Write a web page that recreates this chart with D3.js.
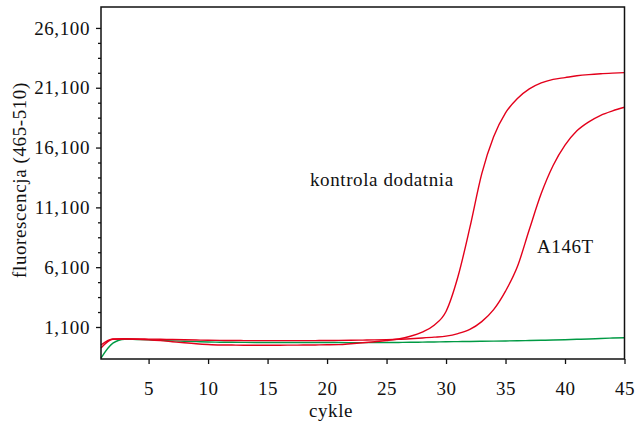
<!DOCTYPE html>
<html>
<head>
<meta charset="utf-8">
<script src="https://cdn.jsdelivr.net/npm/d3@7"></script>
</head>
<body style="margin:0">
<script>
// amplification curves, one value per cycle
const cycles = [1, 2, 3, 4, 5, 6, 7, 8, 9, 10, 11, 12, 13, 14, 15, 16, 17, 18, 19, 20,
  21, 22, 23, 24, 25, 26, 27, 28, 29, 30, 31, 32, 33, 34, 35, 36, 37, 38, 39, 40,
  41, 42, 43, 44, 45]

const kontrola = [-650, 80, 100, 80, 30, -40, -130, -220, -300, -360, -400, -410, -420, -420, -420,
  -420, -415, -410, -400, -390, -370, -300, -220, -130, -30, 100, 330, 680, 1250, 2400,
  5300, 9400, 13900, 17000, 19000, 20200, 21000, 21500, 21800, 21950, 22100, 22200, 22270, 22320, 22360]

const a146t = [-400, 100, 120, 110, 90, 70, 50, 30, 10, -10, -20, -30, -35, -40, -40,
  -40, -40, -40, -35, -30, -20, -10, 5, 20, 40, 70, 120, 180, 250, 340,
  550, 900, 1550, 2550, 4100, 6150, 9250, 12250, 14600, 16300, 17500, 18250, 18800, 19170, 19470]

const negative = [-1500, -250, 80, 50, 20, -20, -60, -90, -120, -150, -170, -180, -185, -190, -190,
  -195, -195, -200, -200, -200, -200, -205, -205, -210, -200, -190, -180, -165, -150, -130,
  -120, -110, -95, -80, -65, -50, -30, -10, 10, 40, 70, 100, 140, 175, 206]

const xTicks = [5, 10, 15, 20, 25, 30, 35, 40, 45]
const yTicks = [1100, 6100, 11100, 16100, 21100, 26100]
const yMinor = [2350, 3600, 4850, 7350, 8600, 9850, 12350, 13600, 14850,
  17350, 18600, 19850, 22350, 23600, 24850]

const W = 641, H = 423
const m = { top: 7, right: 16.5, bottom: 64, left: 101 }

const svg = d3.select("body").append("svg")
  .attr("width", W)
  .attr("height", H)
  .attr("font-family", "Liberation Serif")
  .attr("font-size", 19)
  .attr("letter-spacing", 0.6)

const x = d3.scaleLinear().domain([1, 45]).range([m.left, W - m.right])
const y = d3.scaleLinear().domain([-1575, 27850]).range([H - m.bottom, m.top])

// axes (drop the sans-serif the axis generator puts on its group)
const xAxis = svg.append("g")
  .attr("transform", `translate(0,${H - m.bottom})`)
  .call(d3.axisBottom(x).tickValues(xTicks).tickSize(5).tickPadding(18))
xAxis.select(".domain").remove()

const yAxis = svg.append("g")
  .attr("transform", `translate(${m.left},0)`)
  .call(d3.axisLeft(y).tickValues(yTicks).tickSize(5).tickPadding(6).tickFormat(d3.format(",")))
yAxis.select(".domain").remove()

const yAxisMinor = svg.append("g")
  .attr("transform", `translate(${m.left},0)`)
  .call(d3.axisLeft(y).tickValues(yMinor).tickSize(3).tickFormat(""))
yAxisMinor.select(".domain").remove()

svg.selectAll("g").attr("font-family", null).attr("font-size", null)
svg.selectAll(".tick line").attr("stroke", "#111").attr("stroke-width", 1.3)
svg.selectAll(".tick text").attr("fill", "#111")

// curves
const line = d3.line()
  .x((d, i) => x(cycles[i]))
  .y(d => y(d))
  .curve(d3.curveMonotoneX)

const series = [
  { vals: negative, color: "#009a44" },
  { vals: a146t, color: "#e3001b" },
  { vals: kontrola, color: "#e3001b" }
]

svg.selectAll(".curve")
  .data(series)
  .enter()
  .append("path")
    .attr("class", "curve")
    .attr("d", d => line(d.vals))
    .attr("fill", "none")
    .attr("stroke", d => d.color)
    .attr("stroke-width", 1.4)

// frame
svg.append("rect")
  .attr("x", m.left)
  .attr("y", m.top)
  .attr("width", W - m.right - m.left)
  .attr("height", H - m.bottom - m.top)
  .attr("fill", "none")
  .attr("stroke", "#111")
  .attr("stroke-width", 1.5)

// labels
svg.append("text").attr("x", 331).attr("y", 417).attr("text-anchor", "middle")
  .attr("fill", "#111").text("cykle")
svg.append("text").attr("transform", "translate(26,180) rotate(-90)").attr("text-anchor", "middle")
  .attr("fill", "#111").text("fluorescencja (465-510)")
svg.append("text").attr("x", 310).attr("y", 186)
  .attr("fill", "#111").text("kontrola dodatnia")
svg.append("text").attr("x", 537).attr("y", 253)
  .attr("fill", "#111").text("A146T")
</script>
</body>
</html>
